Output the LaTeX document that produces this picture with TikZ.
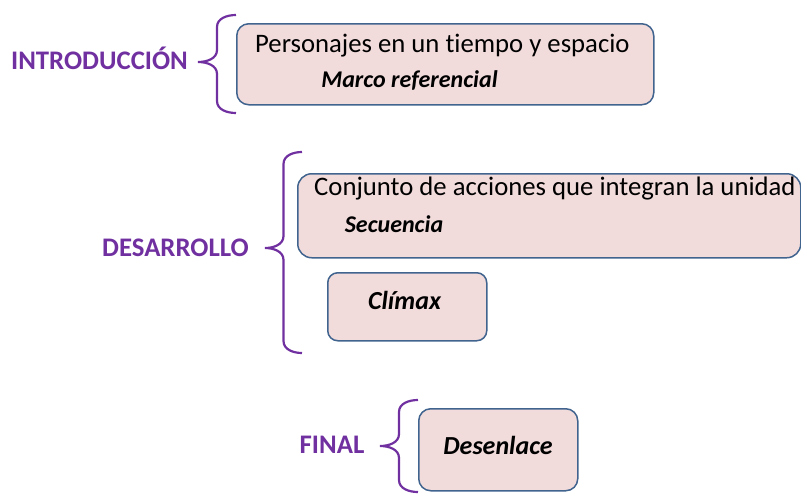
\documentclass[tikz,border=0pt]{standalone}
\usepackage{fontspec}
\setmainfont{Carlito}[Ligatures=NoCommon]

\definecolor{morado}{HTML}{7030A0}
\definecolor{rosa}{HTML}{F2DCDB}
\definecolor{borde}{HTML}{41648F}

% llave: tip x, top y, tip y, bottom y, end x
\newcommand{\llave}[5]{%
  \pgfmathsetmacro\xm{(#1+#5)/2}%
  \pgfmathsetmacro\ya{#2-12}\pgfmathsetmacro\yb{#3+12}%
  \pgfmathsetmacro\yc{#3-12}\pgfmathsetmacro\yd{#4+12}%
  \draw[llavecurva] (#5,#2) to[out=180,in=90] (\xm,\ya) -- (\xm,\yb)
    to[out=270,in=0] (#1,#3) to[out=0,in=90] (\xm,\yc)
    -- (\xm,\yd) to[out=270,in=180] (#5,#4);}

\begin{document}
\begin{tikzpicture}[x=1pt,y=1pt,
  caja/.style={draw=borde, fill=rosa, line width=1.5pt, rounded corners=12pt, inner sep=0pt, anchor=north west},
  etiqueta/.style={text=morado, font=\bfseries\fontsize{26.8}{30}\selectfont, inner sep=0pt},
  texto/.style={font=\fontsize{26.7}{30}\selectfont, inner sep=0pt, anchor=west},
  clave/.style={font=\bfseries\itshape\fontsize{24}{28}\selectfont, inner sep=0pt},
  llavecurva/.style={draw=morado, line width=2.2pt}]
\useasboundingbox (0,0) rectangle (801,-493);

% introduccion
\node[etiqueta] (intro) at (99.5,-58) {INTRODUCCIÓN};
\llave{198}{-15}{-62}{-113}{236}
\node[caja, minimum width=417pt, minimum height=81pt] (marco) at (236,-23) {};
\node[texto] (personajes) at (255,-46) {Personajes en un tiempo y espacio};
\node[clave] (referencial) at (409.5,-80) {Marco referencial};

% desarrollo
\node[etiqueta] (desarrollo) at (175.5,-248) {DESARROLLO};
\llave{265}{-152}{-248}{-353}{302}
\node[caja, rounded corners=14pt, minimum width=503pt, minimum height=84pt] (acciones) at (297,-173) {};
\node[texto] (conjunto) at (314,-189) {Conjunto de acciones que integran la unidad};
\node[clave] (secuencia) at (394,-224) {Secuencia};
\node[caja, rounded corners=10pt, minimum width=159pt, minimum height=68pt] (climaxcaja) at (327,-272) {};
\node[clave, font=\bfseries\itshape\fontsize{26}{30}\selectfont] (climax) at (404.5,-300) {Clímax};

% final
\node[etiqueta] (final) at (332,-445) {FINAL};
\llave{380}{-400}{-446}{-492}{418}
\node[caja, minimum width=159pt, minimum height=82pt] (desenlacecaja) at (418,-408) {};
\node[clave, font=\bfseries\itshape\fontsize{26}{30}\selectfont] (desenlace) at (498,-445) {Desenlace};
\end{tikzpicture}
\end{document}
